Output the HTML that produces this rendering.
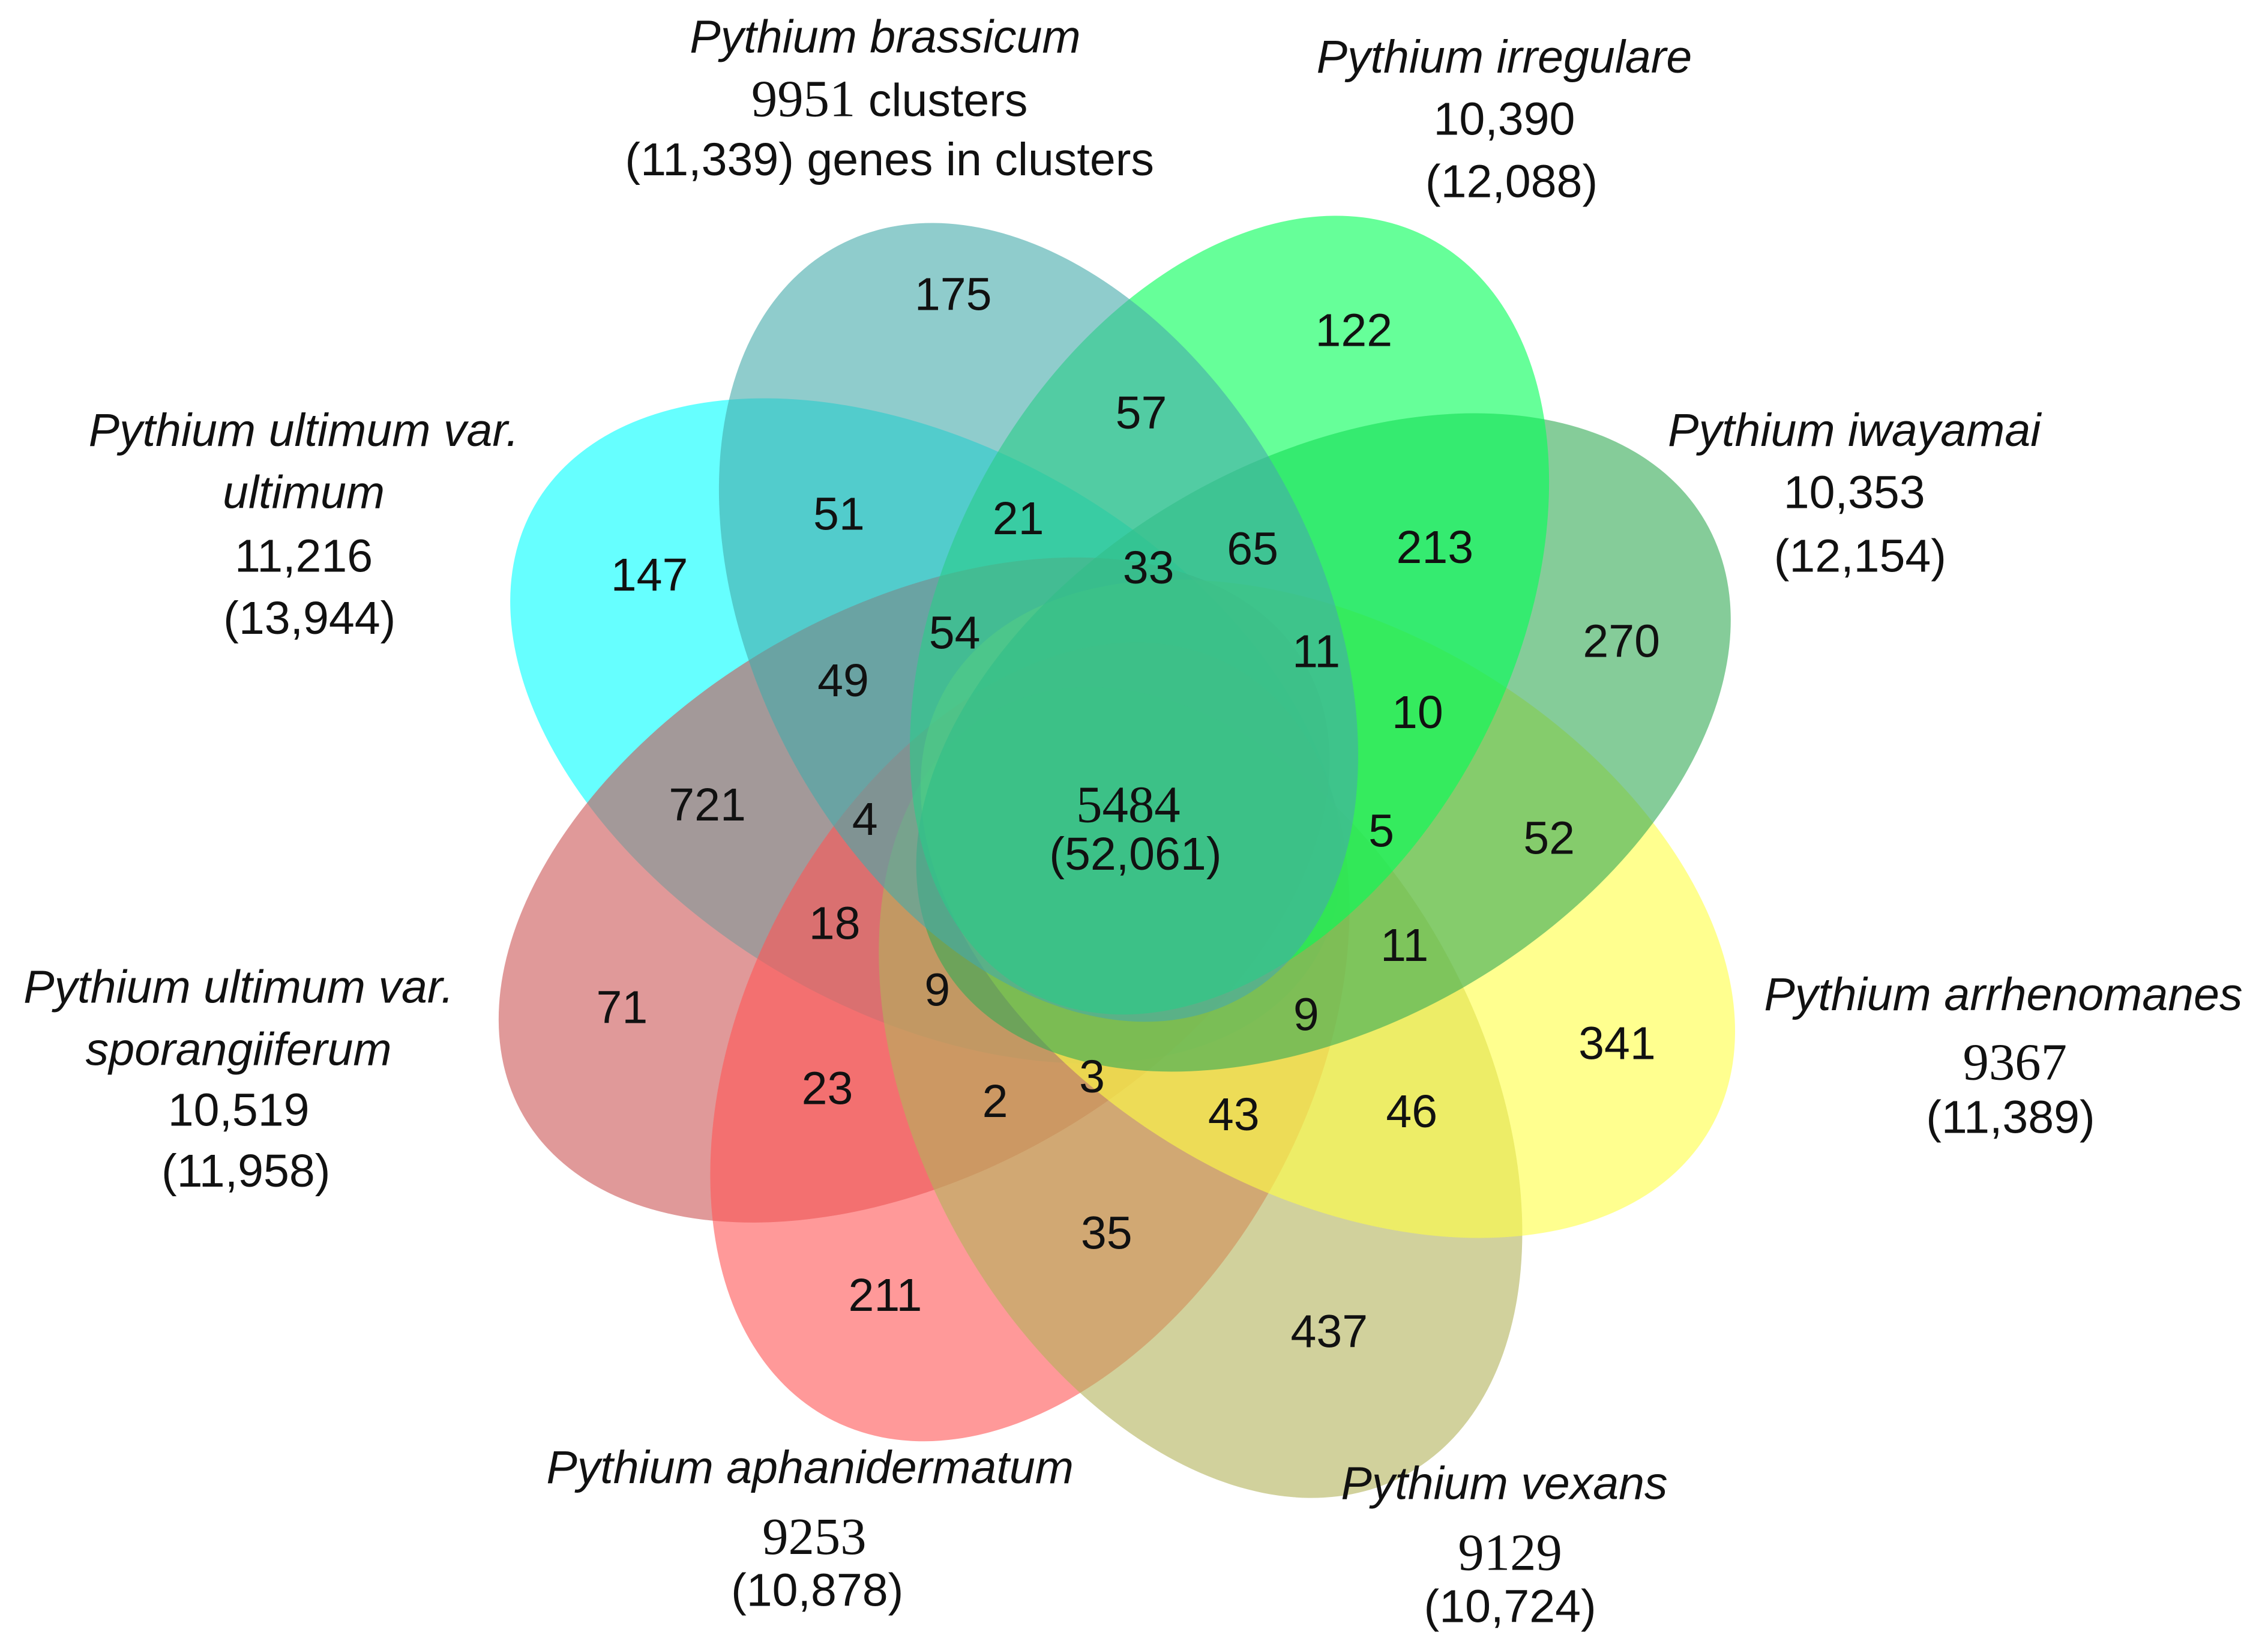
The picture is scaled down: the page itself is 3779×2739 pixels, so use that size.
<!DOCTYPE html>
<html><head><meta charset="utf-8"><style>
html,body{margin:0;padding:0;background:#fff;}
svg{display:block;}
text{font-family:"Liberation Sans",sans-serif;font-size:32px;fill:#111;text-anchor:middle;}
.i{font-style:italic;}
.s{font-family:"Liberation Serif",serif;font-size:36px;}
</style></head><body>
<svg width="3779" height="2739" viewBox="0 0 1568 1136" xmlns="http://www.w3.org/2000/svg">
<rect width="1568" height="1136" fill="#fff"/>
<g fill-opacity="0.6">
<ellipse cx="640" cy="505" rx="312" ry="195" transform="rotate(30 640 505)" fill="#00ffff"/>
<ellipse cx="632" cy="615" rx="312" ry="195" transform="rotate(-30 632 615)" fill="#cc5555"/>
<ellipse cx="712" cy="720" rx="195" ry="295" transform="rotate(28 712 720)" fill="#ff5555"/>
<ellipse cx="830" cy="755" rx="195" ry="300" transform="rotate(-28 830 755)" fill="#b3b35a"/>
<ellipse cx="918" cy="628" rx="305" ry="195" transform="rotate(30 918 628)" fill="#ffff44"/>
<ellipse cx="915" cy="513" rx="305" ry="195" transform="rotate(-30 915 513)" fill="#33aa55"/>
<ellipse cx="850" cy="425" rx="195" ry="295" transform="rotate(28 850 425)" fill="#00ff55"/>
<ellipse cx="718" cy="430" rx="195" ry="295" transform="rotate(-28 718 430)" fill="#44aaaa"/>
</g>
<text x="659" y="214">175</text><text x="936" y="239">122</text>
<text x="789" y="296">57</text><text x="580" y="366">51</text><text x="704" y="369">21</text>
<text x="449" y="408">147</text><text x="794" y="403">33</text><text x="866" y="390">65</text>
<text x="992" y="389">213</text><text x="660" y="448">54</text><text x="910" y="461">11</text>
<text x="1121" y="454">270</text><text x="583" y="481">49</text><text x="980" y="503">10</text>
<text x="489" y="567">721</text><text x="598" y="577">4</text><text x="955" y="585">5</text>
<text x="1071" y="590">52</text><text x="577" y="649">18</text><text x="971" y="664">11</text>
<text x="430" y="707">71</text><text x="648" y="695">9</text><text x="903" y="712">9</text>
<text x="1118" y="732">341</text><text x="572" y="763">23</text><text x="688" y="772">2</text>
<text x="755" y="755">3</text><text x="853" y="781">43</text><text x="976" y="779">46</text>
<text x="765" y="863">35</text><text x="612" y="906">211</text><text x="919" y="931">437</text>
<text x="780" y="568" class="s">5484</text><text x="785" y="601">(52,061)</text>
<text x="612" y="36" class="i">Pythium brassicum</text>
<text x="615" y="80"><tspan class="s">9951</tspan> clusters</text>
<text x="615" y="121">(11,339) genes in clusters</text>
<text x="1040" y="50" class="i">Pythium irregulare</text>
<text x="1040" y="93">10,390</text><text x="1045" y="136">(12,088)</text>
<text x="210" y="308" class="i">Pythium ultimum var.</text>
<text x="210" y="351" class="i">ultimum</text>
<text x="210" y="395">11,216</text><text x="214" y="438">(13,944)</text>
<text x="1282" y="308" class="i">Pythium iwayamai</text>
<text x="1282" y="351">10,353</text><text x="1286" y="395">(12,154)</text>
<text x="165" y="693" class="i">Pythium ultimum var.</text>
<text x="165" y="736" class="i">sporangiiferum</text>
<text x="165" y="778">10,519</text><text x="170" y="820">(11,958)</text>
<text x="1385" y="698" class="i">Pythium arrhenomanes</text>
<text x="1393" y="746" class="s">9367</text><text x="1390" y="783">(11,389)</text>
<text x="560" y="1025" class="i">Pythium aphanidermatum</text>
<text x="563" y="1074" class="s">9253</text><text x="565" y="1110">(10,878)</text>
<text x="1040" y="1036" class="i">Pythium vexans</text>
<text x="1044" y="1085" class="s">9129</text><text x="1044" y="1121">(10,724)</text>
</svg>
</body></html>
